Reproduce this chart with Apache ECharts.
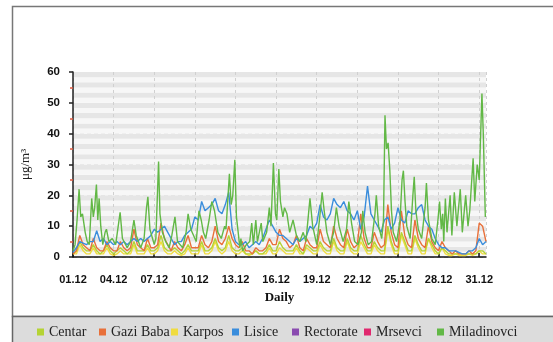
<!DOCTYPE html>
<html><head><meta charset="utf-8">
<script src="https://cdn.jsdelivr.net/npm/echarts@6/dist/echarts.min.js"></script>
<style>html,body{margin:0;padding:0;background:#fff}#c{width:553px;height:342px}</style>
</head><body><div id="c"></div>
<script>
// x tick labels (every 3 days)
const tickLabels = ['01.12','04.12','07.12','10.12','13.12','16.12','19.12','22.12','25.12','28.12','31.12'];
const seriesNames = ['Centar','Gazi Baba','Karpos','Lisice','Rectorate','Mrsevci','Miladinovci'];

// 6-hourly values (00,06,12,18 each day), µg/m3
const centar = [1,2,5,3, 2,2,4,2, 1,2,4,2, 1,2,3,2, 1,2,5,2, 2,2,4,2, 2,3,7,3, 2,2,3,2, 1,2,4,2, 2,2,5,2,
  2,3,6,3, 2,3,7,3, 2,2,3,1, 1,1,2,1, 1,2,4,2, 2,5,3,2, 2,2,4,2, 1,4,3,2, 2,5,3,2, 2,6,3,2,
  2,6,3,2, 2,7,4,2, 2,5,3,2, 2,10,5,2, 2,8,5,2, 2,7,4,2, 2,6,4,2, 1,3,2,1, 1,1,1,1, 1,1,1,1, 2,2,1];
const gaziBaba = [1,2,7,4, 3,2,6,3, 2,2,5,3, 2,2,5,3, 2,3,9,4, 3,2,6,3, 3,4,11,6, 4,2,5,3, 2,4,7,3, 3,3,7,4,
  3,5,10,5, 4,6,10,6, 4,3,5,2, 2,1,3,2, 2,3,6,4, 4,9,6,5, 3,4,7,3, 2,6,4,3, 3,9,5,4, 3,10,6,4,
  3,9,5,3, 4,14,6,3, 3,8,5,3, 4,17,8,4, 3,15,7,4, 3,12,6,4, 3,10,5,3, 2,5,3,2, 1,2,1,1, 1,2,1,2, 11,10,5];
const karpos = [1,1,4,2, 1,1,3,1, 1,1,3,1, 0.5,1,2,1, 1,1,4,1, 1,1,3,1, 1,2,5,2, 1,1,2,1, 0.5,1,3,1, 1,1,4,1,
  1,2,5,2, 1,2,5,2, 1,1,2,1, 0.5,1,2,1, 1,1,3,1, 1,3,2,1, 1,1,3,1, 1,3,2,1, 1,4,2,1, 1,5,2,1,
  1,5,2,1, 1,5,3,1, 1,4,2,1, 1,9,4,1, 1,7,4,1, 1,6,3,1, 1,6,3,1, 1,3,1,0.5, 0.5,1,0.5,0.5, 0.5,1,0.5,1, 2,1,1];
const lisice = [1.5,3,5,4.5, 4,5,5,8.5, 5,6,4,5, 4,5,4,5, 4,5,6,5, 6,5,6,7, 9,8,9,10, 8,6,4,5, 5,7,8,9, 13,12,18,15,
  16,17,19,15, 14,17,21,9, 5,4,4,5, 3,4,5,4, 6,9,12,10, 8,7,7,6, 5,4,6,5, 6,7,10,9, 11,17,13,12, 14,19,17,16,
  18,15,14,12, 15,9,13,23, 14,12,10,8, 12,13,9,11, 16,12,11,15, 14,14,16,17, 12,10,9,6, 4,3,3,2, 2,2,1.5,1, 1,2,2,3, 6,4,5];
const rectorate = [];
const mrsevci = [];
// Miladinovci: read at irregular times (day offset from 01.12 00:00)
const miladinovciDays = [0,0.15,0.3,0.45,0.57,0.7,0.9,1.05,1.2,1.38,1.5,1.6,1.73,1.83,1.93,2.05,2.2,2.37,2.47,2.65,2.9,3.15,3.48,3.65,
  4.0,4.25,4.5,4.67,5.0,5.25,5.43,5.53,5.68,6.0,6.12,6.32,6.42,6.6,6.85,7.1,7.3,7.53,7.72,8.1,8.35,8.5,8.7,9.1,9.3,9.47,9.63,9.8,
  10.05,10.25,10.45,10.7,10.95,11.2,11.3,11.55,11.68,11.8,11.95,12.07,12.2,12.32,12.4,12.53,12.8,13.05,13.2,13.32,13.5,13.62,13.9,14.02,
  14.3,14.5,14.62,14.8,14.95,15.05,15.2,15.32,15.5,15.62,15.8,16.0,16.25,16.5,16.75,17.0,17.2,17.5,17.7,18.0,18.2,18.4,18.55,18.75,
  19.0,19.25,19.45,19.65,19.95,20.2,20.37,20.57,20.8,21.05,21.3,21.4,21.57,21.8,22.05,22.3,22.4,22.57,22.8,22.93,23.04,23.15,23.27,23.4,
  23.52,23.65,23.9,24.15,24.3,24.4,24.52,24.65,24.9,25.1,25.2,25.32,25.5,25.75,26.0,26.1,26.25,26.5,26.75,26.95,27.07,27.2,27.3,27.38,
  27.5,27.62,27.85,27.98,28.16,28.35,28.6,28.75,29.0,29.17,29.3,29.55,29.67,29.85,30.0,30.2,30.3,30.45];
const miladinovci = [2,4,12,22,13,14,8,5,4,19,13,16,23.5,12,19,10,4,8,9,5,6,4,14.5,6,
  3,5,12,7,3,6,16,19.5,9,4,6,31,14,8,5,3,7,13,5,3,8,14,9,5,15,12,8,6,
  12,18,15,8,6,10,9,27,17,20,31.5,13,8,3,6,2,4,5,11,4,12,5,11,5,
  8,16,10,30.5,14,12,28.5,18,13,16,14,8,12,7,5,8,5,19,10,4,12,21,15,8,
  4,8,16,10,5,9,18,11,5,4,8,15,8,4,5,14,20,10,6,12,46,35,37,28,
  15,8,5,12,25,28,18,10,6,20,26,15,9,6,16,24,12,6,4,12,18,9,14,5,
  19,8,20,7,21,10,22,8,20,10,15,32,18,30,25,53,40,13];

const STEP = 0.25;
const reg = vals => vals.map((v, i) => [i * STEP, v]);
const dataMap = {
  'Centar': reg(centar), 'Gazi Baba': reg(gaziBaba), 'Karpos': reg(karpos), 'Lisice': reg(lisice),
  'Rectorate': reg(rectorate), 'Mrsevci': reg(mrsevci),
  'Miladinovci': miladinovciDays.map((d, i) => [d, miladinovci[i]])
};
const colors = {'Centar':'#b5d334','Gazi Baba':'#e8703a','Karpos':'#f0dc40','Lisice':'#3a8ddc',
  'Rectorate':'#8a4bb0','Mrsevci':'#e0286e','Miladinovci':'#62b846'};
const zOrder = {'Karpos':2,'Centar':3,'Gazi Baba':4,'Lisice':5,'Rectorate':6,'Mrsevci':6,'Miladinovci':7};
const legendLeft = [32, 94, 166, 227, 287, 359, 432];

const chart = echarts.init(document.getElementById('c'));
chart.setOption({
  animation: false,
  backgroundColor: '#fff',
  graphic: [
    {type:'rect', z:-5, shape:{x:12.5, y:6.5, width:560, height:310}, style:{fill:'#fff', stroke:'#777', lineWidth:1.5}},
    {type:'rect', z:-4, shape:{x:12.5, y:316.5, width:560, height:40}, style:{fill:'#dcdcdc', stroke:'#666', lineWidth:1.5}}
  ],
  grid: {left:73, right:67, top:72, bottom:85},
  legend: seriesNames.map((n, i) => ({
    data:[n], left: legendLeft[i], top: 320, icon:'rect', itemWidth:7, itemHeight:7, itemGap:0,
    textStyle:{fontFamily:'Liberation Serif', fontSize:14, color:'#222'}
  })),
  xAxis: {
    type:'value', min:0, max:30.5, interval:3,
    name:'Daily', nameLocation:'middle', nameGap:23,
    nameTextStyle:{fontFamily:'Liberation Serif', fontWeight:'bold', fontSize:13, color:'#111'},
    offset: 11,
    axisLine:{show:true, lineStyle:{color:'#111', width:1.5}},
    axisTick:{show:true, inside:true, length:4, lineStyle:{color:'#111', width:1.5}},
    axisLabel:{showMaxLabel:false, margin:6, fontFamily:'Liberation Sans', fontWeight:'bold', fontSize:11, color:'#111',
      formatter: v => tickLabels[Math.round(v / 3)] || ''},
    splitLine:{show:true, lineStyle:{color:'#d0d0d0', type:[3,3], width:1}}
  },
  yAxis: [{
    type:'value', min:0, max:60, interval:10, offset:10,
    name:'μg/m³', nameLocation:'middle', nameGap:31,
    nameTextStyle:{fontFamily:'Liberation Serif', fontSize:13, color:'#222'},
    axisLine:{show:true, lineStyle:{color:'#222', width:1.5}},
    axisTick:{show:true, length:4, lineStyle:{color:'#222', width:1.5}},
    minorTick:{show:true, splitNumber:2, length:3, lineStyle:{color:'#e05a40', width:1.5}},
    axisLabel:{margin:3, fontFamily:'Liberation Sans', fontWeight:'bold', fontSize:11.5, color:'#111'},
    splitLine:{show:true, lineStyle:{color:'#cfcfcf', type:[4,3], width:1}}
  }, {
    type:'value', min:0, max:60, interval:5/3, position:'left',
    axisLine:{show:false}, axisTick:{show:false}, axisLabel:{show:false}, splitLine:{show:false},
    splitArea:{show:true, areaStyle:{color:['#f7f7f7','#e6e6e6']}}
  }],
  series: seriesNames.map(n => ({
    name:n, type:'line', data:dataMap[n], showSymbol:false, symbol:'rect', z:zOrder[n],
    color: colors[n], itemStyle:{color:colors[n]},
    lineStyle:{color:colors[n], width:1.4}
  }))
});
</script></body></html>
